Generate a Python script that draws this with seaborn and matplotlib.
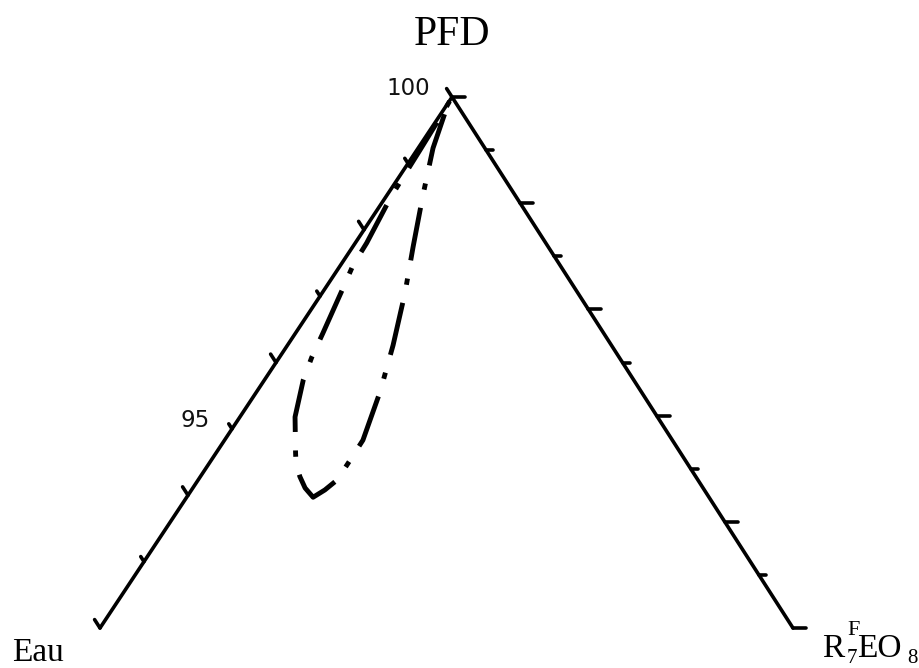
import numpy as np
import pandas as pd
import matplotlib
matplotlib.use("Agg")
import matplotlib.pyplot as plt
import seaborn as sns

# PFD content (%) along the boundary loop, starting and ending at the PFD apex
pfd_level = [100.0, 99.80, 99.20, 98.75, 98.48, 97.80, 97.47, 97.12, 96.44, 96.08,
             95.74, 95.18, 94.64, 94.46, 94.28, 94.11, 93.97, 94.08, 94.23, 94.53,
             94.83, 95.56, 96.26, 97.05, 97.74, 98.52, 99.23, 99.85, 100.0]
# share of R7FEO8 in the non-PFD remainder at each point of the loop
r_share = [0.00, 0.07, 0.045, 0.04, 0.04, 0.06, 0.057, 0.071, 0.089, 0.095,
           0.105, 0.132, 0.171, 0.183, 0.201, 0.220, 0.242, 0.260, 0.278, 0.293,
           0.309, 0.321, 0.326, 0.324, 0.309, 0.281, 0.223, 0.12, 0.00]

# left (PFD) axis
pfd_ticks = [92, 93, 94, 95, 96, 97, 98, 99, 100]
pfd_tick_labels = {95: "95", 100: "100"}
# right side graduations, as fractions of the side
side_ticks = [0.0, 0.1, 0.2, 0.3, 0.4, 0.5, 0.6, 0.7, 0.8, 0.9, 1.0]

PFD_MIN, PFD_MAX = 92.0, 100.0
APEX_X = 0.508          # horizontal position of the apex, base spans 0..1

W, H = 920, 668
DPI = 100
sns.set_theme(style="white")

fig = plt.figure(figsize=(W / DPI, H / DPI), dpi=DPI)
ax = fig.add_axes([0, 0, 1, 1])
ax.set_xlim(-0.1443, 1.1833)
ax.set_ylim(-0.0753, 1.1827)
ax.axis("off")

# pixels per data unit, used for fixed-length tick marks
sx = W / (ax.get_xlim()[1] - ax.get_xlim()[0])
sy = H / (ax.get_ylim()[1] - ax.get_ylim()[0])


def to_xy(p, s):
    t = (np.asarray(p, dtype=float) - PFD_MIN) / (PFD_MAX - PFD_MIN)
    xl = APEX_X * t
    xr = 1 - (1 - APEX_X) * t
    return xl + np.asarray(s, dtype=float) * (xr - xl), t


AX_LW = 2.6
line_kw = dict(color="black", lw=AX_LW, solid_capstyle="round", solid_joinstyle="round")

# triangle sides (no base line)
ax.plot([0, APEX_X, 1], [0, 1, 0], **line_kw)

# ticks on the PFD side, pointing parallel to the right side
rx, ry = (APEX_X - 1) * sx, 1 * sy
norm = np.hypot(rx, ry)
ux, uy = rx / norm, ry / norm
for p in pfd_ticks:
    x0, t = to_xy(p, 0.0)
    L = 10 if p % 2 == 0 else 6
    ax.plot([x0, x0 + ux * L / sx], [t, t + uy * L / sy], **line_kw)
    if p in pfd_tick_labels:
        ax.annotate(pfd_tick_labels[p], xy=(x0, t), xytext=(-22, 2),
                    textcoords="offset pixels", ha="right", va="baseline",
                    fontsize=16.5, family="DejaVu Sans", color="#111111")

# ticks on the right side, pointing parallel to the base
for i, f in enumerate(side_ticks):
    x0 = 1 - (1 - APEX_X) * f
    L = 13 if i % 2 == 0 else 7
    ax.plot([x0, x0 + L / sx], [f, f], **line_kw)

# boundary loop, dash-dot with a long dash centred on its lowest point
bx, by = to_xy(pfd_level, r_share)
LOOP_LW = 3.5
pattern = (11, 3.8, 1.3, 3.8)
period = sum(pattern)
seg = np.hypot(np.diff(bx) * sx, np.diff(by) * sy)
low = int(np.argmin(by))
dist_units = seg[:low].sum() * 72 / DPI / LOOP_LW
phase = (pattern[0] / 2 - dist_units) % period

loop = pd.DataFrame({"x": bx, "y": by})
sns.lineplot(data=loop, x="x", y="y", sort=False, estimator=None, ax=ax,
             color="black", lw=LOOP_LW, linestyle=(phase, pattern),
             dash_capstyle="butt")

# corner labels
serif = "Liberation Serif"
txt = dict(textcoords="offset pixels", va="baseline", family=serif, color="black")
ax.annotate("PFD", xy=(APEX_X, 1), xytext=(0, 52), ha="center", fontsize=30, **txt)
ax.annotate("Eau", xy=(0, 0), xytext=(-88, -33), ha="left", fontsize=24, **txt)
# R7F EO8, with the stacked super/subscript after R
ax.annotate("R", xy=(1, 0), xytext=(29, -29), ha="left", fontsize=24, **txt)
ax.annotate("F", xy=(1, 0), xytext=(54, -7), ha="left", fontsize=16, **txt)
ax.annotate("7", xy=(1, 0), xytext=(54, -35), ha="left", fontsize=15, **txt)
ax.annotate("EO", xy=(1, 0), xytext=(64, -29), ha="left", fontsize=24, **txt)
ax.annotate("8", xy=(1, 0), xytext=(114, -35), ha="left", fontsize=15, **txt)

fig.savefig("out.png", dpi=DPI, facecolor="white")
